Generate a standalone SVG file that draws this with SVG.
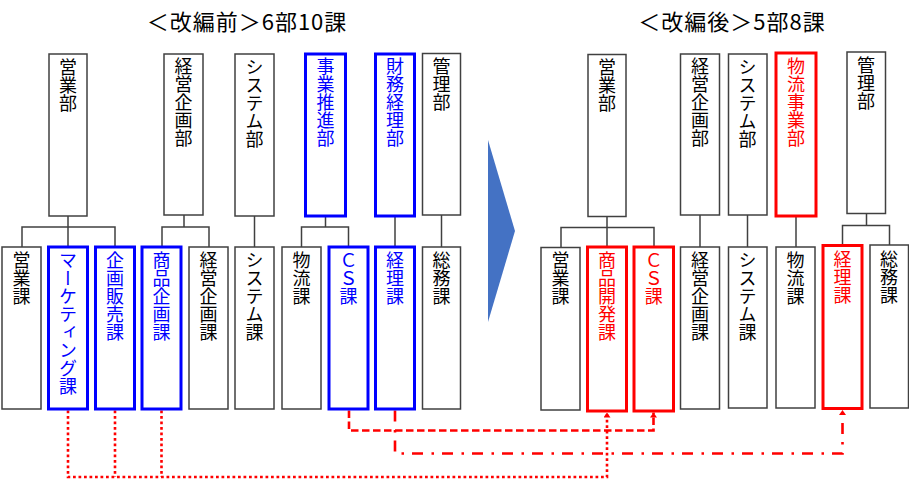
<svg xmlns="http://www.w3.org/2000/svg" width="909" height="479" viewBox="0 0 909 479">
<style>
.bx{fill:#fff;stroke:#404040;stroke-width:1.5}
.bb{fill:#fff;stroke:#0000ff;stroke-width:3}
.rb{fill:#fff;stroke:#ff0000;stroke-width:3}
.vt{font-family:"Noto Sans CJK JP","Noto Sans CJK SC",sans-serif;font-size:18px;writing-mode:vertical-rl;fill:#000}
.tb{fill:#0000ff}
.tr{fill:#ff0000}
.ttl{font-family:"Noto Sans CJK JP","Noto Sans CJK SC",sans-serif;font-size:22px;fill:#000;text-anchor:middle;letter-spacing:1px}
.cn{fill:none;stroke:#404040;stroke-width:1.5}
.dot{fill:none;stroke:#ff0000;stroke-width:2.6;stroke-dasharray:2.75 2.75}
.dash{fill:none;stroke:#ff0000;stroke-width:2.6;stroke-dasharray:7.5 3.5}
.dd{fill:none;stroke:#ff0000;stroke-width:2.6;stroke-dasharray:11 8.5 2.5 8}
</style>
<defs>
<marker id="ah" viewBox="0 0 5 7" refX="5" refY="3.5" markerWidth="5" markerHeight="7" markerUnits="userSpaceOnUse" orient="auto">
<path d="M0,0 L5,3.5 L0,7 Z" fill="#ff0000"/>
</marker>
</defs>

<text class="ttl" x="247" y="30">＜改編前＞6部10課</text>
<text class="ttl" x="732" y="30">＜改編後＞5部8課</text>

<polygon id="shift-arrow" points="488,140 515,231 488,322" fill="#4472C4"/>

<g id="connectors">
<path class="cn" d="M68,216 V247 M22,247 V227 H115 V247"/>
<path class="cn" d="M184,215 V227 M162,247 V227 H209 V247"/>
<path class="cn" d="M254.5,216 V247"/>
<path class="cn" d="M325.5,216 V227 M301.5,247 V227 H348.5 V247"/>
<path class="cn" d="M395,216 V247"/>
<path class="cn" d="M441.5,215 V247"/>
<path class="cn" d="M607,216.5 V247 M561,247.5 V227.5 H654 V247"/>
<path class="cn" d="M700,215 V247"/>
<path class="cn" d="M747.5,215 V247"/>
<path class="cn" d="M796,216 V247"/>
<path class="cn" d="M866.5,213.5 V225.5 M842.5,245.5 V225.5 H889.5 V245"/>
<path class="dot" d="M68,410.5 V477 H607 V412.5" marker-end="url(#ah)"/>
<path class="dot" d="M115,410.5 V477"/>
<path class="dot" d="M161.5,410.5 V477"/>
<path class="dash" d="M349,410.5 V430.5 H653.5 V412.5" marker-end="url(#ah)"/>
<path class="dd" d="M395,410.5 V453.5 H842.5 V410" marker-end="url(#ah)"/>
</g>

<!-- before: departments -->
<g id="b-eigyo-bu"><rect class="bx" x="49" y="54" width="38" height="162"/><text class="vt" x="68" y="58">営業部</text></g>
<g id="b-keiei-bu"><rect class="bx" x="164" y="54" width="39" height="161"/><text class="vt" x="183.5" y="57">経営企画部</text></g>
<g id="b-system-bu"><rect class="bx" x="235" y="54" width="39" height="162"/><text class="vt" x="254.5" y="58">システム部</text></g>
<g id="b-jigyo-bu"><rect class="bb" x="305.5" y="54" width="40" height="162"/><text class="vt tb" x="325.5" y="57">事業推進部</text></g>
<g id="b-zaimu-bu"><rect class="bb" x="375.5" y="54" width="39" height="162"/><text class="vt tb" x="395" y="57">財務経理部</text></g>
<g id="b-kanri-bu"><rect class="bx" x="422.5" y="53.5" width="38" height="161.5"/><text class="vt" x="441.5" y="57">管理部</text></g>

<!-- before: sections -->
<g id="b-eigyo-ka"><rect class="bx" x="2" y="247" width="39" height="162"/><text class="vt" x="21.5" y="251">営業課</text></g>
<g id="b-marketing-ka"><rect class="bb" x="48.5" y="247" width="39" height="162"/><text class="vt tb" x="68" y="251">マーケティング課</text></g>
<g id="b-kikakuhanbai-ka"><rect class="bb" x="95.5" y="247" width="39" height="162"/><text class="vt tb" x="115" y="251">企画販売課</text></g>
<g id="b-shohinkikaku-ka"><rect class="bb" x="142" y="247" width="39" height="162"/><text class="vt tb" x="161.5" y="251">商品企画課</text></g>
<g id="b-keieikikaku-ka"><rect class="bx" x="189" y="247" width="39" height="162"/><text class="vt" x="208.5" y="251">経営企画課</text></g>
<g id="b-system-ka"><rect class="bx" x="235" y="247" width="39" height="162"/><text class="vt" x="254.5" y="251">システム課</text></g>
<g id="b-butsuryu-ka"><rect class="bx" x="282" y="247" width="39" height="162"/><text class="vt" x="301.5" y="251">物流課</text></g>
<g id="b-cs-ka"><rect class="bb" x="329" y="247" width="39" height="162"/><text class="vt tb" x="348.5" y="251">ＣＳ課</text></g>
<g id="b-keiri-ka"><rect class="bb" x="375.5" y="247" width="39" height="162"/><text class="vt tb" x="395" y="251">経理課</text></g>
<g id="b-somu-ka"><rect class="bx" x="422.5" y="247" width="38" height="162"/><text class="vt" x="441.5" y="251">総務課</text></g>

<!-- after: departments -->
<g id="a-eigyo-bu"><rect class="bx" x="588" y="54.5" width="38" height="162"/><text class="vt" x="607" y="58">営業部</text></g>
<g id="a-keiei-bu"><rect class="bx" x="680.5" y="54" width="39" height="161"/><text class="vt" x="700" y="57">経営企画部</text></g>
<g id="a-system-bu"><rect class="bx" x="728.5" y="54" width="38.5" height="161"/><text class="vt" x="747.5" y="58">システム部</text></g>
<g id="a-butsuryujigyo-bu"><rect class="rb" x="776" y="53" width="40" height="163"/><text class="vt tr" x="796" y="57">物流事業部</text></g>
<g id="a-kanri-bu"><rect class="bx" x="847" y="52" width="38.5" height="161.5"/><text class="vt" x="866" y="56">管理部</text></g>

<!-- after: sections -->
<g id="a-eigyo-ka"><rect class="bx" x="541" y="247.5" width="39" height="162.5"/><text class="vt" x="560.5" y="251">営業課</text></g>
<g id="a-shohinkaihatsu-ka"><rect class="rb" x="587.5" y="247" width="39" height="164"/><text class="vt tr" x="607" y="251">商品開発課</text></g>
<g id="a-cs-ka"><rect class="rb" x="634" y="247" width="39.5" height="164"/><text class="vt tr" x="653.75" y="251">ＣＳ課</text></g>
<g id="a-keieikikaku-ka"><rect class="bx" x="680.5" y="247" width="39" height="162"/><text class="vt" x="700" y="251">経営企画課</text></g>
<g id="a-system-ka"><rect class="bx" x="728.5" y="247" width="38.5" height="161"/><text class="vt" x="747.5" y="251">システム課</text></g>
<g id="a-butsuryu-ka"><rect class="bx" x="776" y="247" width="39" height="161"/><text class="vt" x="795.5" y="251">物流課</text></g>
<g id="a-keiri-ka"><rect class="rb" x="823" y="245.5" width="39" height="163"/><text class="vt tr" x="842.5" y="250">経理課</text></g>
<g id="a-somu-ka"><rect class="bx" x="870" y="245" width="38.5" height="163"/><text class="vt" x="889" y="250">総務課</text></g>
</svg>
